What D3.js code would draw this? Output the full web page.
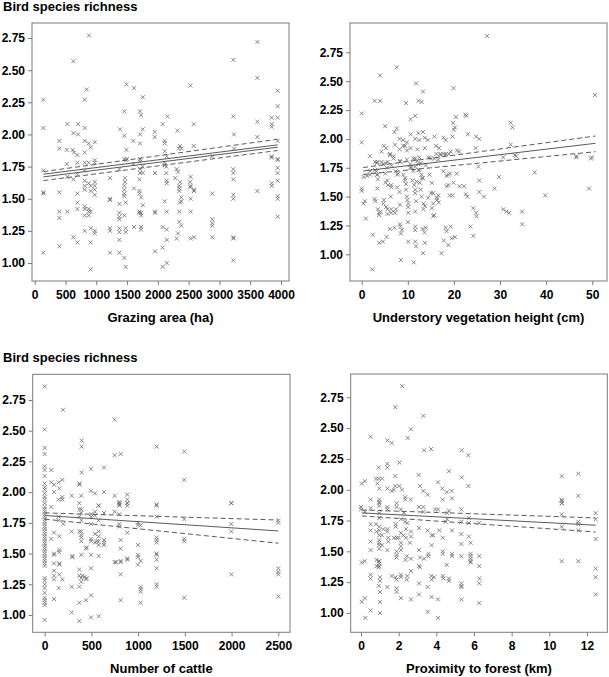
<!DOCTYPE html>
<html><head><meta charset="utf-8">
<script src="https://cdn.jsdelivr.net/npm/d3@7"></script>
<style>body{margin:0;background:#fff}svg{display:block}</style>
</head><body><svg id="c" width="609" height="677"></svg>
<script>
// ---------- data ----------
const yTicks = [1.00, 1.25, 1.50, 1.75, 2.00, 2.25, 2.50, 2.75];
const grazingTicks = [0, 500, 1000, 1500, 2000, 2500, 3000, 3500, 4000];
const understoryTicks = [0, 10, 20, 30, 40, 50];
const cattleTicks = [0, 500, 1000, 1500, 2000, 2500];
const forestTicks = [0, 2, 4, 6, 8, 10, 12];
const xTitles = ["Grazing area (ha)", "Understory vegetation height (cm)", "Number of cattle", "Proximity to forest (km)"];
const yTitle = "Bird species richness";

const grazingPts = [[141,2.27],[141,2.05],[628,2.57],[882,2.77],[844,2.35],[812,2.27],[812,2.05],[400,1.95],[400,1.89],[530,2.08],[628,2.01],[704,2.08],[704,2.00],[520,1.88],[617,1.88],[639,1.86],[693,1.84],[812,1.86],[812,1.95],[877,1.93],[909,1.90],[974,1.94],[1456,2.18],[1489,2.39],[1613,2.36],[1754,2.29],[1711,2.18],[1727,2.15],[1386,2.04],[1456,1.99],[1602,1.95],[1711,2.00],[1711,1.93],[1754,2.04],[1489,1.88],[1949,2.02],[1949,1.98],[2078,2.08],[2154,2.14],[2111,1.95],[2111,1.93],[2317,2.03],[2360,1.91],[2387,1.89],[2338,1.89],[2528,2.38],[2582,2.08],[2582,1.91],[3226,2.58],[3226,2.14],[3237,2.00],[3237,1.89],[3616,2.72],[3616,2.44],[3616,2.10],[3616,1.98],[3946,2.34],[3946,2.22],[3849,2.13],[3946,2.13],[3849,2.08],[3849,2.06],[3946,1.95],[3849,1.82],[3946,1.80],
[141,1.72],[141,1.55],[141,1.54],[141,1.08],[400,1.55],[400,1.40],[400,1.35],[400,1.13],[520,1.77],[530,1.67],[530,1.40],[628,1.65],[628,1.20],[693,1.78],[693,1.69],[693,1.54],[693,1.47],[693,1.42],[693,1.16],[812,1.78],[812,1.72],[812,1.64],[812,1.60],[812,1.57],[812,1.44],[812,1.42],[877,1.42],[812,1.37],[877,1.37],[812,1.25],[877,1.78],[877,1.62],[909,1.60],[909,1.56],[877,1.40],[909,1.40],[909,1.27],[909,1.16],[909,0.95],[974,1.80],[974,1.78],[974,1.63],[974,1.60],[974,1.57],[974,1.53],[974,1.25],[974,1.23],[1223,1.66],[1223,1.50],[1223,1.49],[1223,1.27],[1223,1.25],[1223,1.08],[1375,1.73],[1375,1.46],[1375,1.39],[1375,1.36],[1375,1.34],[1375,1.27],[1375,1.24],[1375,1.18],[1375,1.08],[1456,1.81],[1478,1.80],[1500,1.81],[1467,1.66],[1467,1.63],[1456,1.60],[1456,1.57],[1456,1.54],[1456,1.52],[1478,1.47],[1456,1.37],[1478,1.27],[1478,1.24],[1456,1.04],[1478,0.97],[1602,1.77],[1613,1.58],[1613,1.28],[1711,1.81],[1711,1.79],[1711,1.73],[1711,1.70],[1700,1.65],[1700,1.56],[1700,1.54],[1700,1.40],[1700,1.39],[1727,1.39],[1727,1.37],[1727,1.51],[1727,1.28],[1727,1.26],[1754,1.75],[1754,1.70],[1754,1.45],[1954,1.70],[1954,1.40],[1954,1.39],[1954,1.09],[2078,1.28],[2078,1.12],[2078,0.97],[2111,1.87],[2144,1.83],[2111,1.76],[2144,1.64],[2144,1.62],[2111,1.48],[2144,1.40],[2144,1.26],[2144,1.18],[2144,1.00],[2306,1.73],[2327,1.71],[2349,1.60],[2349,1.58],[2349,1.56],[2381,1.51],[2381,1.48],[2360,1.47],[2349,1.40],[2349,1.32],[2381,1.29],[2327,1.23],[2306,1.19],[2533,1.67],[2533,1.60],[2533,1.50],[2533,1.40],[2533,1.19],[2587,1.57],[2587,1.56],[2587,1.20],[2885,1.54],[2885,1.34],[2885,1.31],[2885,1.29],[2885,1.20],[3226,1.73],[3226,1.70],[3226,1.65],[3226,1.53],[3226,1.50],[3226,1.20],[3226,1.19],[3226,1.02],[3616,1.56],[3849,1.83],[3849,1.62],[3849,1.60],[3946,1.81],[3946,1.74],[3946,1.70],[3946,1.64],[3946,1.52],[3946,1.50],[3946,1.36],[2878,1.83],[2283,1.66],[2110,1.78],[2137,1.75],[2137,1.70],[2364,1.63],[2526,1.63],[2526,1.59]];

const understoryPts = [[0,2.22],[0,1.97],[27.2,2.89],[7.6,2.62],[4.0,2.55],[2.8,2.33],[4.0,2.33],[9.6,2.31],[11.8,2.48],[12.3,2.33],[13.0,2.32],[13.3,2.41],[19.9,2.44],[10.6,2.17],[11.6,2.20],[20.4,2.19],[5.1,2.11],[7.6,2.09],[7.1,2.06],[10.6,2.04],[12.3,2.05],[13.3,2.06],[19.8,2.14],[20.2,2.10],[20.0,2.08],[22.5,2.21],[22.7,2.20],[23.0,2.04],[24.8,2.02],[25.5,2.00],[19.7,2.02],[15.8,2.02],[17.7,2.01],[18.2,1.99],[8.2,2.00],[9.0,1.99],[9.8,1.97],[11.6,2.00],[12.5,1.99],[13.7,2.01],[14.3,1.99],[4.8,1.94],[5.3,1.92],[4.3,1.89],[7.2,1.95],[9.0,1.94],[9.4,1.94],[8.2,1.91],[9.8,1.90],[10.6,1.92],[12.1,1.91],[13.7,1.92],[16.1,1.94],[16.8,1.92],[16.2,1.87],[17.1,1.87],[18.3,1.87],[18.9,1.87],[21.1,1.89],[24.7,1.92],[32.3,2.14],[32.7,2.10],[32.3,1.95],[1.8,1.85],[6.1,1.87],[6.9,1.85],[46.6,1.85],[49.9,1.84],[50.6,2.38],[30.7,1.84],[33.2,1.86],[11.2,1.83],[12.5,1.84],[14.5,1.84],[15.7,1.83],
[0,1.57],[0,1.55],[0.4,1.44],[0.7,1.46],[0.9,1.31],[2.3,0.87],[2.4,1.17],[1.2,1.68],[3.4,1.80],[3.2,1.72],[3.4,1.69],[3.5,1.65],[3.4,1.57],[2.8,1.48],[3.0,1.46],[3.5,1.39],[3.8,1.36],[3.8,1.34],[4.1,1.37],[3.8,1.10],[4.6,1.11],[5.2,1.79],[5.6,1.80],[5.1,1.70],[5.2,1.62],[5.7,1.60],[4.8,1.47],[4.7,1.44],[5.3,1.41],[5.6,1.39],[5.6,1.35],[5.4,1.15],[6.4,1.60],[6.4,1.58],[6.3,1.50],[6.4,1.39],[6.4,1.36],[6.1,1.22],[7.1,1.23],[7.4,1.39],[7.2,1.36],[7.7,1.58],[7.9,1.70],[8.3,1.80],[8.2,1.54],[8.3,1.43],[8.3,1.26],[8.4,1.24],[8.7,1.21],[8.5,1.18],[8.5,0.95],[9.0,1.69],[9.4,1.64],[9.6,1.61],[9.6,1.56],[9.8,1.50],[9.9,1.47],[10.1,1.44],[10.1,1.41],[10.1,1.36],[10.0,1.28],[10.1,1.11],[10.5,1.78],[10.8,1.75],[11.2,1.72],[11.0,1.64],[11.4,1.60],[11.6,1.56],[11.6,1.53],[11.8,1.46],[11.6,1.37],[11.6,1.24],[11.6,1.21],[11.6,1.11],[11.8,1.07],[11.3,0.93],[12.3,1.78],[12.5,1.73],[13.0,1.69],[13.3,1.66],[12.6,1.62],[12.8,1.56],[13.0,1.50],[13.4,1.44],[13.7,1.42],[13.4,1.39],[13.2,1.22],[13.6,1.19],[13.9,1.23],[13.7,1.10],[13.3,1.01],[14.7,1.69],[15.2,1.62],[14.4,1.49],[15.0,1.53],[15.5,1.53],[15.5,1.44],[15.2,1.40],[15.7,1.34],[15.5,1.33],[16.3,1.47],[16.6,1.51],[16.3,1.49],[16.7,1.45],[17.3,1.01],[17.8,1.12],[18.8,1.08],[18.2,1.23],[18.4,1.20],[17.7,1.72],[18.4,1.68],[18.8,1.69],[19.1,1.70],[18.4,1.59],[18.8,1.60],[19.1,1.51],[19.7,1.51],[19.5,1.14],[20.2,1.15],[19.3,1.24],[19.9,1.62],[20.6,1.70],[21.2,1.59],[22.2,1.59],[22.6,1.52],[22.9,1.50],[23.6,1.24],[24.2,1.40],[24.8,1.36],[24.9,1.33],[24.2,1.16],[25.5,1.64],[25.5,1.54],[26.5,1.50],[25.3,1.76],[28.8,1.57],[29.8,1.67],[30.7,1.39],[31.4,1.37],[32.0,1.36],[34.8,1.37],[34.8,1.26],[37.5,1.71],[39.8,1.51],[49.3,1.57],[49.7,1.83],[46.5,1.84],[33.5,1.85],
[2.9,1.80],[3.3,1.79],[4.3,1.80],[4.7,1.78],[6.1,1.86],[6.9,1.83],[6.5,1.77],[8.3,1.81],[9.8,1.82],[11.6,1.83],[12.0,1.81],[12.8,1.79],[13.9,1.77],[15.0,1.83],[16.6,1.82],[17.1,1.86],[17.8,1.87],[19.3,1.89],[20.7,1.90],[10.5,1.75],[11.6,1.76],[12.3,1.73],[1.8,1.72],[2.9,1.73],[3.3,1.69],[5.5,1.75],[7.3,1.72],[7.7,1.69],[0.4,1.67],[1.8,1.69],[5.5,1.64],[9.4,1.66],[11.9,1.63],[13.0,1.66]];

const cattlePts = [[0,2.86],[0,2.51],[0,2.36],[0,2.31],[0,2.21],[0,2.18],[0,2.13],[0,2.07],[0,2.04],[0,2.02],[0,1.99],[0,1.96],[0,1.94],[0,1.91],[0,1.88],[71,2.18],[71,2.08],[100,2.06],[100,2.00],[150,2.08],[157,2.03],[189,2.10],[196,2.67],[150,1.94],[189,1.96],[189,1.94],[289,1.97],[371,2.07],[371,2.06],[392,1.97],[396,2.16],[396,2.42],[396,2.37],[496,2.19],[492,2.01],[538,1.99],[635,2.20],[635,2.00],[578,1.89],[749,2.59],[749,2.30],[813,2.31],[749,1.97],[799,1.91],[799,1.89],[884,1.98],[884,1.91],[884,1.89],[1198,2.37],[1198,1.89],[1494,2.33],[1494,2.10],[1997,1.91],
[0,1.86],[0,1.84],[0,1.82],[0,1.80],[0,1.78],[0,1.76],[0,1.74],[0,1.72],[0,1.70],[0,1.68],[0,1.66],[0,1.64],[0,1.62],[0,1.60],[0,1.58],[0,1.56],[0,1.54],[0,1.52],[0,1.50],[0,1.48],[0,1.46],[0,1.44],[0,1.42],[0,1.40],[0,1.30],[0,1.28],[0,1.25],[0,1.22],[0,1.18],[0,1.14],[0,1.12],[0,1.10],[0,1.08],[0,0.96],
[71,1.88],[71,1.62],[100,1.67],[100,1.50],[100,1.49],[100,1.42],[100,1.36],[100,1.32],[100,1.29],[100,1.13],[150,1.80],[150,1.77],[157,1.64],[157,1.53],[157,1.51],[157,1.42],[157,1.41],[157,1.33],[150,1.22],[189,1.29],[200,1.74],[289,1.68],[296,1.48],[296,1.47],[289,1.23],[289,1.02],[371,1.91],[371,1.86],[392,1.86],[392,1.83],[371,1.80],[392,1.77],[371,1.68],[392,1.68],[392,1.65],[392,1.63],[392,1.60],[371,1.37],[371,1.32],[392,1.30],[392,1.27],[371,1.23],[371,1.10],[371,0.95],[403,1.32],[428,1.31],[442,1.29],[449,1.30],[442,1.54],[449,1.55],[442,1.12],[392,1.49],[496,1.82],[496,1.80],[496,1.74],[496,1.62],[496,1.60],[496,1.49],[496,1.38],[496,1.16],[496,0.98],[538,1.84],[538,1.81],[538,1.66],[556,1.60],[538,1.59],[578,1.89],[578,1.77],[578,1.68],[578,1.64],[578,1.60],[578,1.57],[578,1.48],[578,0.99],[635,1.83],[635,1.61],[635,1.59],[635,1.57],[749,1.84],[749,1.43],[763,1.43],[799,1.92],[799,1.90],[799,1.82],[799,1.74],[799,1.72],[813,1.61],[813,1.54],[813,1.44],[813,1.43],[813,1.33],[813,1.12],[884,1.94],[884,1.91],[884,1.67],[884,1.46],[884,1.45],[998,1.75],[998,1.73],[998,1.57],[998,1.49],[998,1.47],[998,1.41],[1027,1.44],[1027,1.73],[1027,1.23],[1027,1.21],[1027,1.19],[1027,1.10],[1198,1.90],[1198,1.80],[1198,1.63],[1198,1.61],[1198,1.59],[1198,1.50],[1198,1.49],[1198,1.45],[1198,1.38],[1198,1.25],[1198,1.23],[1494,1.78],[1494,1.62],[1494,1.60],[1494,1.14],[1997,1.91],[1997,1.74],[1997,1.68],[1997,1.33],[2500,1.77],[2500,1.75],[2500,1.38],[2500,1.35],[2500,1.33],[2500,1.15]];

const forestPts = [[2.19,2.84],[1.82,2.67],[3.31,2.60],[2.65,2.49],[2.48,2.42],[0.51,2.43],[1.40,2.40],[1.63,2.38],[3.35,2.32],[3.72,2.33],[5.35,2.32],[5.70,2.28],[2.04,2.22],[0.94,2.18],[1.40,2.18],[1.40,2.21],[1.82,2.11],[3.06,2.12],[4.67,2.15],[5.35,2.10],[5.70,2.03],[0.04,2.05],[0.20,2.07],[0.80,2.09],[0.94,2.09],[1.12,2.09],[0.87,2.05],[0.97,2.01],[1.40,2.01],[1.63,1.99],[1.75,2.00],[1.82,2.03],[2.04,2.03],[2.18,2.00],[2.35,1.94],[2.35,1.92],[2.64,1.92],[3.13,2.03],[3.31,1.99],[3.54,1.96],[4.09,2.06],[4.32,2.01],[4.55,1.98],[4.81,1.99],[4.83,1.93],[4.34,1.92],[10.66,2.11],[11.54,2.13],[11.54,1.95],[10.66,1.91],[10.66,1.89],[0.51,1.92],[0.97,1.90],[1.40,1.86],
[0,1.86],[0,1.84],[0.21,1.82],[0.04,1.41],[0.20,1.42],[0.04,1.09],[0.20,1.12],[0.23,0.96],[0.51,1.85],[0.51,1.72],[0.51,1.67],[0.51,1.58],[0.51,1.51],[0.51,1.31],[0.51,1.28],[0.51,1.02],[0.83,1.43],[0.94,1.42],[0.83,1.38],[0.94,1.37],[0.94,1.22],[0.80,1.72],[0.83,1.66],[0.97,1.92],[0.97,1.89],[0.97,1.87],[0.97,1.81],[0.97,1.77],[0.97,1.70],[0.97,1.67],[0.97,1.63],[0.97,1.59],[0.97,1.57],[0.97,1.55],[0.97,1.52],[0.97,1.42],[0.97,1.40],[0.97,1.38],[1.01,1.29],[1.01,1.26],[1.01,1.17],[1.01,1.09],[1.01,1.00],[1.12,1.63],[1.12,1.55],[1.19,1.68],[1.40,1.84],[1.40,1.68],[1.40,1.66],[1.45,1.61],[1.45,1.58],[1.40,1.51],[1.40,1.21],[1.63,1.30],[1.89,1.89],[1.89,1.86],[1.84,1.72],[1.84,1.70],[1.75,1.61],[1.89,1.61],[1.99,1.61],[1.89,1.50],[1.89,1.47],[1.89,1.45],[1.84,1.29],[1.89,1.27],[1.89,1.20],[1.89,1.17],[2.12,1.84],[2.12,1.76],[2.12,1.65],[2.12,1.57],[2.12,1.54],[2.12,1.51],[2.12,1.29],[2.12,1.31],[2.12,1.12],[2.28,1.81],[2.34,1.74],[2.46,1.73],[2.39,1.68],[2.25,1.63],[2.39,1.61],[2.43,1.46],[2.36,1.43],[2.43,1.27],[2.46,1.30],[2.65,1.66],[2.65,1.62],[2.60,1.57],[2.65,1.11],[2.65,1.34],[2.65,1.44],[3.08,1.86],[3.08,1.69],[3.08,1.51],[3.13,1.45],[3.08,1.38],[3.13,1.37],[3.08,1.24],[3.08,1.15],[3.31,1.86],[3.31,1.82],[3.35,1.44],[3.54,1.67],[3.58,1.48],[3.58,1.46],[3.54,1.21],[3.54,1.01],[3.75,1.63],[3.84,1.63],[3.75,1.55],[3.73,1.30],[3.75,1.27],[3.88,1.29],[3.75,1.13],[3.93,1.84],[4.09,1.84],[4.09,1.11],[4.09,0.96],[4.16,1.67],[4.34,1.61],[4.37,1.28],[4.34,1.30],[4.34,1.50],[4.34,1.48],[4.58,1.81],[4.67,1.83],[4.58,1.76],[4.49,1.74],[4.55,1.39],[4.67,1.28],[4.67,1.26],[4.83,1.67],[4.83,1.48],[4.83,1.46],[5.33,1.84],[5.33,1.74],[5.33,1.64],[5.33,1.56],[5.33,1.46],[5.33,1.24],[5.33,1.22],[5.33,1.21],[5.33,1.11],[5.73,1.62],[5.73,1.77],[5.73,1.73],[5.82,1.48],[5.82,1.46],[5.82,1.44],[5.82,1.57],[5.82,1.42],[5.82,1.41],[6.28,1.46],[6.28,1.38],[6.28,1.28],[6.28,1.24],[6.28,1.08],[6.28,1.73],[10.66,1.89],[10.66,1.92],[10.66,1.80],[10.66,1.70],[10.66,1.42],[11.54,1.74],[11.54,1.72],[11.54,1.67],[11.54,1.42],[12.46,1.81],[12.46,1.76],[12.46,1.60],[12.46,1.36],[12.46,1.29],[12.46,1.15]];

// regression lines: x endpoints, fitted values and confidence limits at those endpoints
const grazingFitX = [141, 3946];
const grazingFit = [1.691, 1.919];
const grazingFit2 = [1.670, 1.901];
const grazingLower = [1.641, 1.875];
const grazingUpper = [1.711, 1.963];
const understoryFitX = [0.3, 50.7];
const understoryFit = [1.722, 1.962];
const understoryLower = [1.692, 1.889];
const understoryUpper = [1.752, 2.025];
const cattleFitX = [0, 2500];
const cattleFit = [1.81, 1.684];
const cattleLower = [1.78, 1.584];
const cattleUpper = [1.831, 1.773];
const forestFitX = [0.04, 12.46];
const forestFit = [1.812, 1.712];
const forestLower = [1.787, 1.657];
const forestUpper = [1.836, 1.771];

// ---------- layout ----------
const panels = [
  {pts: grazingPts, ticks: grazingTicks, title: xTitles[0], fx: grazingFitX, solids: [grazingFit, grazingFit2], dashes: [grazingLower, grazingUpper],
   box: [32, 289, 23, 281], xd: [-44, 4130], yd: [0.86, 2.867]},
  {pts: understoryPts, ticks: understoryTicks, title: xTitles[1], fx: understoryFitX, solids: [understoryFit], dashes: [understoryLower, understoryUpper],
   box: [350, 607, 23, 281], xd: [-2.54, 53.2], yd: [0.769, 3.004]},
  {pts: cattlePts, ticks: cattleTicks, title: xTitles[2], fx: cattleFitX, solids: [cattleFit], dashes: [cattleLower, cattleUpper],
   box: [32.7, 290, 374.3, 632.3], xd: [-128, 2625], yd: [0.859, 2.959]},
  {pts: forestPts, ticks: forestTicks, title: xTitles[3], fx: forestFitX, solids: [forestFit], dashes: [forestLower, forestUpper],
   box: [350.7, 607.3, 374, 632.3], xd: [-0.547, 13.08], yd: [0.843, 2.939]}
];

const svg = d3.select("#c");
const FONT = '"Liberation Sans", Arial, Helvetica, sans-serif';
const axisCol = "#7a7a7a", ptCol = "#6a6a6a", lineCol = "#5a5a5a";

svg.append("text").attr("x", 3).attr("y", 10.5).text(yTitle)
  .attr("font-family", FONT).attr("font-weight", "bold").attr("font-size", 13).attr("fill", "#000");
svg.append("text").attr("x", 3).attr("y", 361.5).text(yTitle)
  .attr("font-family", FONT).attr("font-weight", "bold").attr("font-size", 13).attr("fill", "#000");

panels.forEach(p => {
  const [x0, x1, y0, y1] = p.box;
  const x = d3.scaleLinear().domain(p.xd).range([x0, x1]);
  const y = d3.scaleLinear().domain(p.yd).range([y1, y0]);

  // points
  const g = svg.append("g");
  g.selectAll("path").data(p.pts).join("path")
    .attr("d", d => { const cx = x(d[0]), cy = y(d[1]), s = 2;
      return `M${cx - s},${cy - s}L${cx + s},${cy + s}M${cx - s},${cy + s}L${cx + s},${cy - s}`; })
    .attr("stroke", ptCol).attr("stroke-width", 0.8).attr("fill", "none");

  // regression + CI lines
  const line = d3.line().x(d => x(d[0])).y(d => y(d[1]));
  p.dashes.forEach(v => {
    svg.append("path").attr("d", line(p.fx.map((xx, i) => [xx, v[i]])))
      .attr("stroke", lineCol).attr("stroke-width", 1).attr("fill", "none").attr("stroke-dasharray", "5,3");
  });
  p.solids.forEach(v => {
    svg.append("path").attr("d", line(p.fx.map((xx, i) => [xx, v[i]])))
      .attr("stroke", lineCol).attr("stroke-width", 1).attr("fill", "none");
  });

  // frame
  svg.append("rect").attr("x", x0).attr("y", y0).attr("width", x1 - x0).attr("height", y1 - y0)
    .attr("fill", "none").attr("stroke", axisCol).attr("stroke-width", 1);

  // axes
  const ya = svg.append("g").attr("transform", `translate(${x0},0)`)
    .call(d3.axisLeft(y).tickValues(yTicks).tickFormat(d3.format(".2f")).tickSize(4).tickPadding(3));
  const xa = svg.append("g").attr("transform", `translate(0,${y1})`)
    .call(d3.axisBottom(x).tickValues(p.ticks).tickFormat(d3.format("d")).tickSize(4).tickPadding(5.5));
  [ya, xa].forEach(a => {
    a.select(".domain").remove();
    a.selectAll("line").attr("stroke", axisCol);
    a.selectAll("text").attr("font-family", FONT).attr("font-weight", "bold").attr("font-size", 12).attr("fill", "#000");
  });

  svg.append("text").attr("x", (x0 + x1) / 2).attr("y", y1 + 40.5).attr("text-anchor", "middle").text(p.title)
    .attr("font-family", FONT).attr("font-weight", "bold").attr("font-size", 13).attr("fill", "#000");
});
</script>
</body></html>
